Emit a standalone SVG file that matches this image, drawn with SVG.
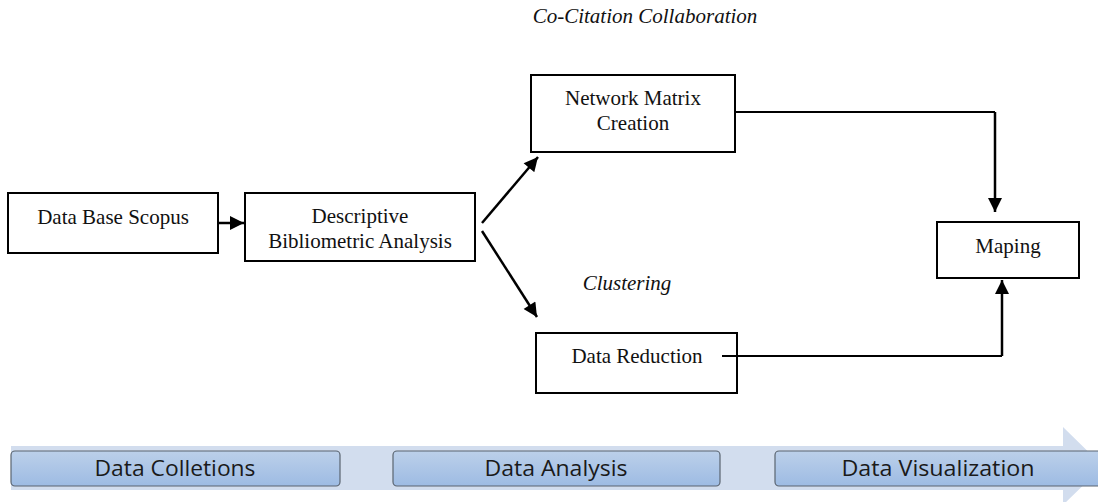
<svg xmlns="http://www.w3.org/2000/svg" width="1098" height="502" viewBox="0 0 1098 502">
<defs>
<style>
.box{fill:#fff;stroke:#000;stroke-width:2}
.t{font-family:"Liberation Serif","Times New Roman",serif;font-size:21px;fill:#111;text-anchor:middle}
.i{font-style:italic}
.c{stroke:#000;stroke-width:2;fill:none}
.ca{stroke:#000;stroke-width:2.5;fill:none}
.btn{fill:url(#g);stroke:#5a6470;stroke-width:1.2}
.bt{font-family:"Open Sans","Noto Sans",sans-serif;font-size:21px;fill:#1a1a1a;text-anchor:middle}
</style>
<linearGradient id="g" x1="0" y1="0" x2="0" y2="1">
<stop offset="0" stop-color="#bcd0ea"/>
<stop offset="1" stop-color="#9dbbe3"/>
</linearGradient>
<marker id="ah" viewBox="0 0 10 10" refX="10" refY="5" markerWidth="6" markerHeight="5.6" markerUnits="strokeWidth" orient="auto">
<path d="M0,0 L10,5 L0,10 z" fill="#000"/>
</marker>
</defs>
<rect width="1098" height="502" fill="#fff"/>

<g id="phase-band">
<path d="M11,446 H1063 V427 L1103,466 L1063,505 V490 H11 Z" fill="#d2ddee"/>
</g>
<g id="phase-collections">
<rect class="btn" x="11" y="451" width="329" height="35" rx="4"/>
<text class="bt" x="175" y="476" textLength="161" lengthAdjust="spacingAndGlyphs">Data Colletions</text>
</g>
<g id="phase-analysis">
<rect class="btn" x="393" y="451" width="327" height="35" rx="4"/>
<text class="bt" x="556" y="476" textLength="143" lengthAdjust="spacingAndGlyphs">Data Analysis</text>
</g>
<g id="phase-visualization">
<rect class="btn" x="775" y="451" width="330" height="35" rx="4"/>
<text class="bt" x="938" y="476" textLength="193" lengthAdjust="spacingAndGlyphs">Data Visualization</text>
</g>

<g id="label-cocitation">
<text class="t i" x="645" y="23">Co-Citation Collaboration</text>
</g>
<g id="label-clustering">
<text class="t i" x="627" y="290">Clustering</text>
</g>

<g id="node-database">
<rect class="box" x="8" y="193" width="210" height="60"/>
<text class="t" x="113" y="224">Data Base Scopus</text>
</g>
<g id="node-descriptive">
<rect class="box" x="245" y="193" width="230" height="68"/>
<text class="t" x="360" y="223">Descriptive</text>
<text class="t" x="360" y="248">Bibliometric Analysis</text>
</g>
<g id="node-network">
<rect class="box" x="531" y="75" width="204" height="77"/>
<text class="t" x="633" y="105">Network Matrix</text>
<text class="t" x="633" y="130">Creation</text>
</g>
<g id="node-reduction">
<rect class="box" x="536" y="333" width="201" height="60"/>
<text class="t" x="637" y="363">Data Reduction</text>
</g>
<g id="node-maping">
<rect class="box" x="937" y="222" width="142" height="56"/>
<text class="t" x="1008" y="253">Maping</text>
</g>

<g id="connectors">
<line class="ca" x1="218" y1="223" x2="244" y2="223" marker-end="url(#ah)"/>
<line class="ca" x1="482" y1="223" x2="538" y2="157" marker-end="url(#ah)"/>
<line class="ca" x1="482" y1="231" x2="537" y2="317" marker-end="url(#ah)"/>
<path class="c" d="M735,112 H995"/>
<line class="ca" x1="995" y1="112" x2="995" y2="212" marker-end="url(#ah)"/>
<path class="c" d="M722,356 H1002"/>
<line class="ca" x1="1002" y1="356" x2="1002" y2="280" marker-end="url(#ah)"/>
</g>
</svg>
